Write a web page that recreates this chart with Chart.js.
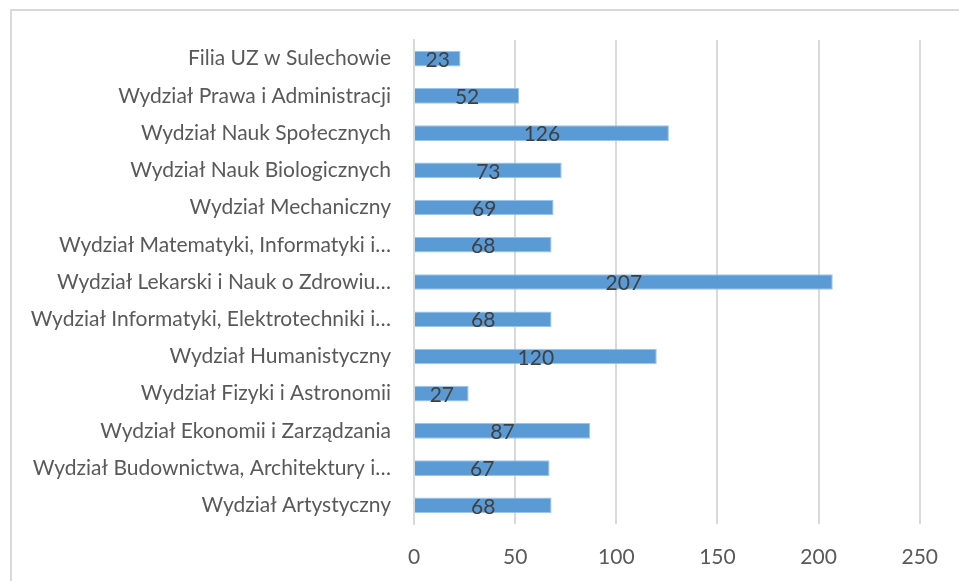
<!DOCTYPE html>
<html>
<head>
<meta charset="utf-8">
<script src="https://cdn.jsdelivr.net/npm/chart.js@4.4.1/dist/chart.umd.min.js"></script>
<style>
  html, body { margin: 0; padding: 0; background: #fff; overflow: hidden; }
  #frame { position: absolute; left: 10px; top: 9px; width: 960px; height: 580px;
           border-left: 2px solid #d9d9d9; border-top: 2px solid #d9d9d9; }
  #wrap { position: absolute; left: 0; top: 0; width: 959px; height: 581px; }
</style>
</head>
<body>
<div id="frame"></div>
<div id="wrap"><canvas id="c" width="959" height="581"></canvas></div>
<script>
const categories = [
  "Filia UZ w Sulechowie",
  "Wydział Prawa i Administracji",
  "Wydział Nauk Społecznych",
  "Wydział Nauk Biologicznych",
  "Wydział Mechaniczny",
  "Wydział Matematyki, Informatyki i…",
  "Wydział Lekarski i Nauk o Zdrowiu…",
  "Wydział Informatyki, Elektrotechniki i…",
  "Wydział Humanistyczny",
  "Wydział Fizyki i Astronomii",
  "Wydział Ekonomii i Zarządzania",
  "Wydział Budownictwa, Architektury i…",
  "Wydział Artystyczny"
];
const values = [23, 52, 126, 73, 69, 68, 207, 68, 120, 27, 87, 67, 68];
const xTicks = [0, 50, 100, 150, 200, 250];

const FONT = "Lato, 'Open Sans', sans-serif";

const valueLabels = {
  id: 'valueLabels',
  afterDatasetsDraw(chart) {
    const ctx = chart.ctx;
    const meta = chart.getDatasetMeta(0);
    ctx.save();
    ctx.font = "21px " + FONT;
    ctx.fillStyle = "#404040";
    ctx.textAlign = "center";
    ctx.textBaseline = "middle";
    meta.data.forEach((bar, i) => {
      const cx = (bar.x + bar.base) / 2;
      ctx.fillText(String(values[i]), cx, bar.y + 1.5);
    });
    ctx.restore();
  }
};

new Chart(document.getElementById('c'), {
  type: 'bar',
  data: {
    labels: categories,
    datasets: [{
      data: values,
      backgroundColor: '#5b9bd5',
      borderColor: '#9dc3e6',
      borderWidth: 1,
      barPercentage: 0.84,
      categoryPercentage: 0.5
    }]
  },
  options: {
    indexAxis: 'y',
    responsive: false,
    animation: false,
    layout: { padding: { left: 0, top: 40, right: 34, bottom: 0 } },
    plugins: { legend: { display: false }, tooltip: { enabled: false } },
    scales: {
      x: {
        min: 0, max: 250,
        afterBuildTicks(scale) { scale.ticks = xTicks.map(v => ({ value: v })); },
        afterFit(scale) { scale.height = 57; },
        grid: { color: '#d9d9d9', lineWidth: 2, drawTicks: false },
        border: { display: false },
        ticks: { font: { family: FONT, size: 21 }, color: '#595959', padding: 21 }
      },
      y: {
        afterFit(scale) { scale.width = 414; },
        grid: { display: false, drawTicks: false },
        border: { display: true, color: '#d9d9d9', width: 2 },
        ticks: { font: { family: FONT, size: 21 }, color: '#595959', padding: 23, autoSkip: false }
      }
    }
  },
  plugins: [valueLabels]
});
</script>
</body>
</html>
